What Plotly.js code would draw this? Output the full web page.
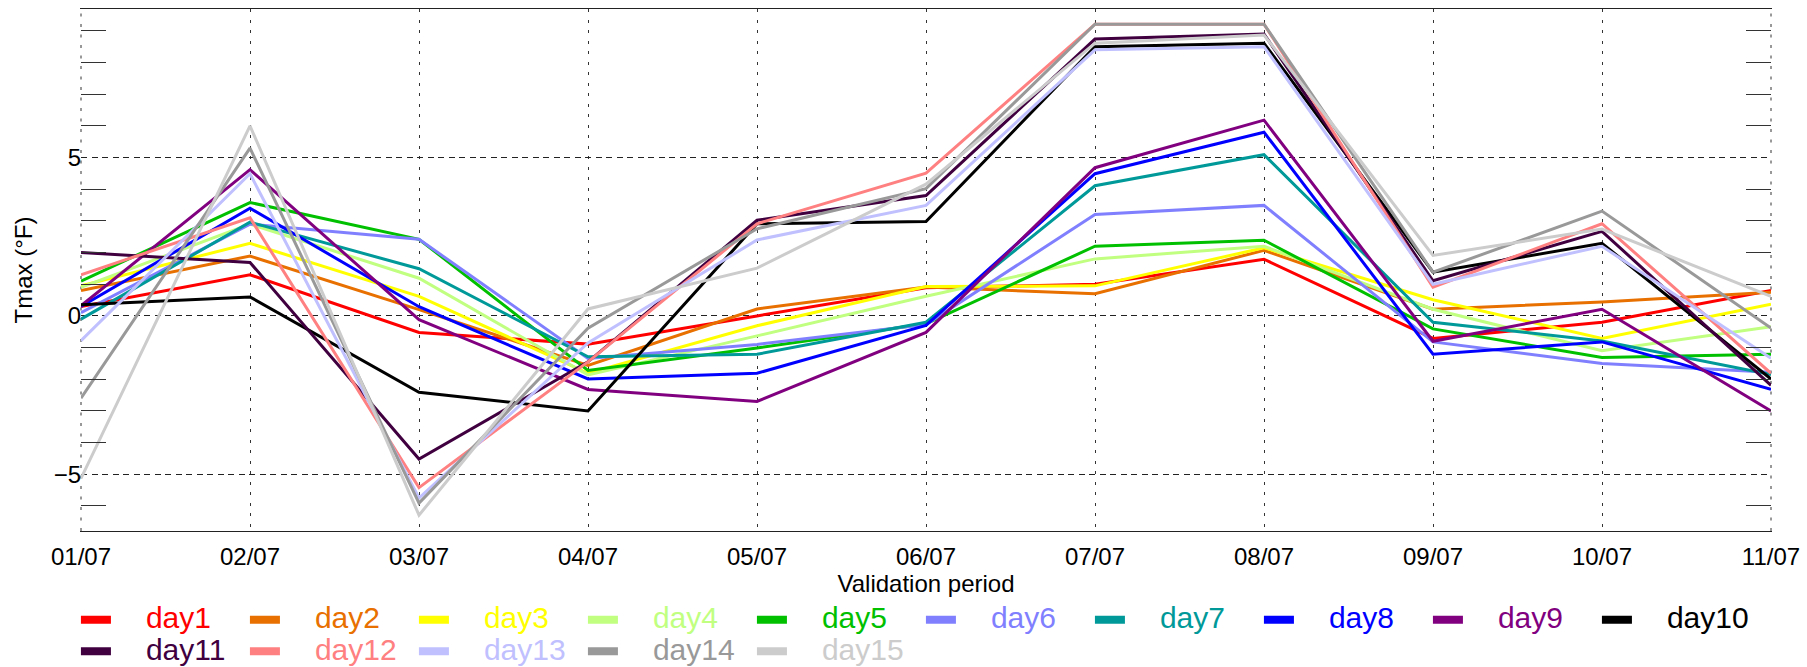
<!DOCTYPE html>
<html>
<head>
<meta charset="utf-8">
<script src="https://cdn.plot.ly/plotly-3.0.1.min.js"></script>
<style>html,body{margin:0;padding:0;background:#fff;}#chart{width:1807px;height:667px;}</style>
</head>
<body>
<div id="chart"></div>
<script>
const categories = ['01/07','02/07','03/07','04/07','05/07','06/07','07/07','08/07','09/07','10/07','11/07'];

const day1  = [0.30, 1.30, -0.52, -0.89,  0.00,  0.89, 1.00, 1.79, -0.71, -0.20,  0.80];
const day2  = [0.80, 1.89,  0.20, -1.56,  0.22,  0.91, 0.70, 2.07,  0.21,  0.44,  0.75];
const day3  = [0.95, 2.29,  0.62, -1.81, -0.31,  0.93, 0.95, 2.15,  0.51, -0.71,  0.37];
const day4  = [0.90, 2.90,  1.19, -1.86, -0.63,  0.62, 1.80, 2.20,  0.21, -1.10, -0.34];
const day5  = [1.10, 3.58,  2.42, -1.72, -1.01, -0.25, 2.20, 2.39, -0.41, -1.31, -1.21];
const day6  = [0.10, 2.90,  2.42, -1.34, -0.90, -0.27, 3.20, 3.49, -0.82, -1.50, -1.78];
const day7  = [-0.10, 2.96, 1.49, -1.29, -1.21, -0.20, 4.11, 5.09, -0.20, -0.79, -1.85];
const day8  = [0.30, 3.40,  0.29, -1.99, -1.81, -0.30, 4.49, 5.80, -1.21, -0.82, -2.32];
const day9  = [0.32, 4.62, -0.12, -2.32, -2.70, -0.52, 4.68, 6.18, -0.80,  0.21, -3.00];
const day10 = [0.35, 0.60, -2.41, -3.00,  2.91,  2.98, 8.50, 8.61,  1.38,  2.29, -1.99];
const day11 = [2.00, 1.69, -4.52, -1.45,  3.02,  3.80, 8.74, 8.90,  1.11,  2.67, -2.19];
const day12 = [1.30, 3.10, -5.42, -1.45,  2.91,  4.51, 9.21, 9.21,  0.91,  2.91, -1.81];
const day13 = [-0.78, 4.49, -5.75, -0.85, 2.40,  3.49, 8.40, 8.50,  1.00,  2.20, -1.34];
const day14 = [-2.60, 5.30, -5.91, -0.39, 2.75,  4.02, 9.21, 9.21,  1.38,  3.31, -0.38];
const day15 = [-5.13, 6.00, -6.29,  0.22, 1.51,  4.16, 8.61, 8.87,  1.91,  2.74,  0.62];

const seriesNames = ['day1','day2','day3','day4','day5','day6','day7','day8','day9','day10','day11','day12','day13','day14','day15'];
const seriesColors = ['#ff0000','#e87000','#ffff00','#c0ff80','#00c000','#8080ff','#009999','#0000ff','#800080','#000000','#400040','#ff8080','#c0c0ff','#999999','#cccccc'];
const seriesValues = [day1,day2,day3,day4,day5,day6,day7,day8,day9,day10,day11,day12,day13,day14,day15];
const yRange = [-6.79, 9.69];
const minorTickVals = [-6,-4,-3,-2,-1,1,2,3,4,6,7,8,9];

const FONT = 'Liberation Sans, Arial, sans-serif';

const dataTraces = seriesValues.map((vals, i) => ({
  type: 'scatter', mode: 'lines',
  x: categories, y: vals,
  name: seriesNames[i], legendgroup: seriesNames[i], showlegend: false,
  line: {color: seriesColors[i], width: 3},
  hoverinfo: 'skip'
}));

const legendTraces = seriesNames.map((n, i) => ({
  type: 'scatter', mode: 'lines',
  x: [null], y: [null], yaxis: 'y2',
  name: '<span style="color:' + seriesColors[i] + ';font-size:30px">\u2003' + n + '</span>',
  legendgroup: n, showlegend: true,
  line: {color: seriesColors[i], width: 8},
  hoverinfo: 'skip'
}));

const layout = {
  width: 1807, height: 667,
  margin: {l: 81, r: 36, t: 9, b: 136, pad: 0, autoexpand: false},
  paper_bgcolor: '#ffffff', plot_bgcolor: '#ffffff',
  font: {family: FONT, size: 24, color: '#000'},
  showlegend: true,
  hovermode: false,
  legend: {
    orientation: 'h', xanchor: 'left', yanchor: 'top',
    x: -0.003, y: -0.130,
    font: {family: FONT, size: 22, color: '#000'},
    bgcolor: 'rgba(0,0,0,0)', borderwidth: 0,
    itemwidth: 30, entrywidth: 124, entrywidthmode: 'pixels',
    traceorder: 'normal', itemclick: false, itemdoubleclick: false
  },
  xaxis: {
    type: 'category', categoryorder: 'array', categoryarray: categories,
    range: [0, 10], fixedrange: true,
    showgrid: true, gridcolor: '#333', gridwidth: 1, griddash: '3px,7.5px',
    zeroline: false,
    showline: true, linecolor: '#222', linewidth: 1, mirror: true,
    ticks: '', tickfont: {family: FONT, size: 24, color: '#000'},
    ticklabelstandoff: 4,
    title: {text: 'Validation period', font: {family: FONT, size: 24, color: '#000'}, standoff: 0}
  },
  yaxis: {
    range: yRange, fixedrange: true,
    tickmode: 'linear', tick0: 0, dtick: 5,
    showgrid: true, gridcolor: '#222', gridwidth: 1, griddash: '6px,4.5px',
    zeroline: false, showline: false,
    ticks: '', tickfont: {family: FONT, size: 24, color: '#000'},
    ticklabelstandoff: -1,
    title: {text: 'Tmax (°F)', font: {family: FONT, size: 24, color: '#000'}, standoff: 14}
  },
  yaxis2: {
    overlaying: 'y', side: 'left', anchor: 'x',
    range: yRange, fixedrange: true,
    tickmode: 'array', tickvals: minorTickVals,
    showticklabels: false, showgrid: false, zeroline: false,
    showline: true, linecolor: 'rgba(0,0,0,0)', mirror: 'ticks',
    ticks: 'inside', ticklen: 25, tickwidth: 1, tickcolor: '#333'
  },
  shapes: [
    {type: 'line', xref: 'paper', yref: 'paper', x0: 0, x1: 0, y0: 0, y1: 1, layer: 'below',
     line: {color: '#333', width: 1, dash: '3px,7.5px'}},
    {type: 'line', xref: 'paper', yref: 'paper', x0: 1, x1: 1, y0: 0, y1: 1, layer: 'below',
     line: {color: '#333', width: 1, dash: '3px,7.5px'}}
  ]
};

Plotly.newPlot('chart', dataTraces.concat(legendTraces), layout, {staticPlot: true, displayModeBar: false});
</script>
</body>
</html>
